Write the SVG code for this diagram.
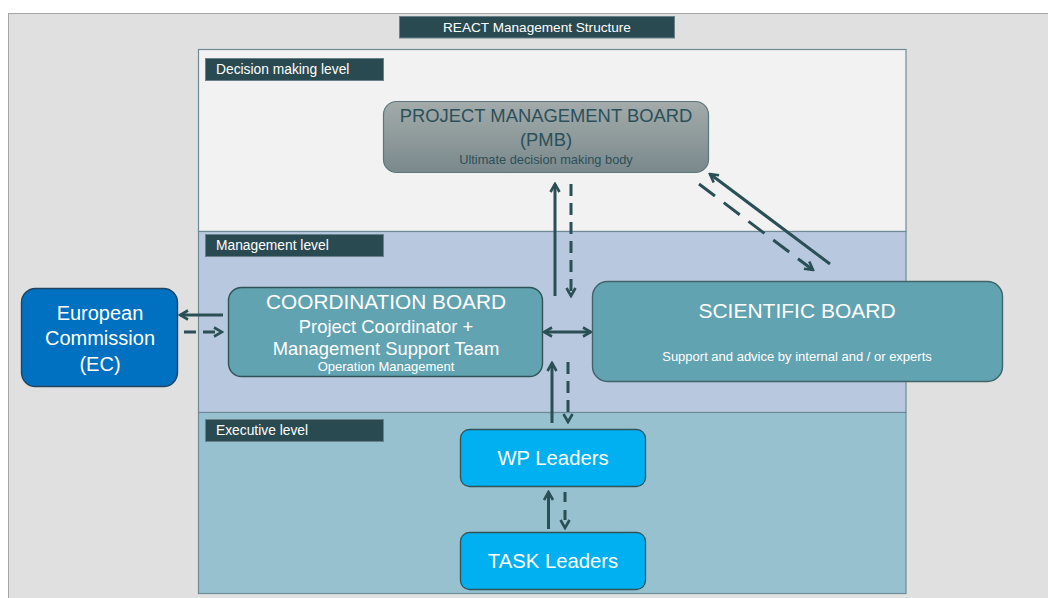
<svg xmlns="http://www.w3.org/2000/svg" width="1048" height="598" viewBox="0 0 1048 598">
  <defs>
    <linearGradient id="pmbFill" x1="0" y1="0" x2="0" y2="1">
      <stop offset="0" stop-color="#a3abab"/>
      <stop offset="1" stop-color="#7a898c"/>
    </linearGradient>
    <marker id="head" viewBox="0 0 12 12" refX="10" refY="6" markerWidth="12" markerHeight="12" markerUnits="userSpaceOnUse" orient="auto-start-reverse">
      <path d="M2,1.5 L10,6 L2,10.5" fill="none" stroke="#2a4f55" stroke-width="2.6" stroke-linejoin="miter"/>
    </marker>
  </defs>
  <style>
    .lbl { fill: #2a4a52; stroke: #6b8189; stroke-width: 1; }
    .lbltxt { font-family: "Liberation Sans", Arial, sans-serif; font-size: 13.8px; fill: #ffffff; }
    .panel { stroke: #6f8a95; stroke-width: 1.2; }
    .t { font-family: "Liberation Sans", Arial, sans-serif; text-anchor: middle; }
    .conn { fill: none; stroke: #2a4f55; stroke-width: 3; }
    .dash { stroke-dasharray: 12 7; }
    .dashlong { stroke-dasharray: 20 11; }
  </style>

  <!-- page background -->
  <rect x="0" y="0" width="1048" height="598" fill="#ffffff"/>
  <rect x="8.5" y="13.5" width="1045" height="590" fill="#e0e0e0" stroke="#a6a6a6" stroke-width="1"/>

  <!-- title -->
  <g id="title">
    <rect x="399.5" y="16.5" width="275" height="21.5" class="lbl"/>
    <text x="537" y="32" class="t" font-size="13.6" fill="#ffffff">REACT Management Structure</text>
  </g>

  <!-- level bands -->
  <g id="level-decision">
    <rect x="198.5" y="49.5" width="707.5" height="182" fill="#f2f2f2" class="panel"/>
    <rect x="205.5" y="58.5" width="178" height="22" class="lbl"/>
    <text x="216" y="74" class="lbltxt">Decision making level</text>
  </g>
  <g id="level-management">
    <rect x="198.5" y="231.5" width="707.5" height="181" fill="#b8c9df" class="panel"/>
    <rect x="205.5" y="234.5" width="178" height="22" class="lbl"/>
    <text x="216" y="250" class="lbltxt">Management level</text>
  </g>
  <g id="level-executive">
    <rect x="198.5" y="412.5" width="707.5" height="181" fill="#97c1cf" class="panel"/>
    <rect x="205.5" y="419.5" width="178" height="22" class="lbl"/>
    <text x="216" y="435" class="lbltxt">Executive level</text>
  </g>

  <!-- connectors -->
  <g id="connectors">
    <!-- PMB <-> Coordination board -->
    <line x1="555" y1="296" x2="555" y2="184" class="conn" marker-end="url(#head)"/>
    <line x1="571" y1="184" x2="571" y2="296" class="conn dash" marker-end="url(#head)"/>
    <!-- PMB <-> Scientific board -->
    <line x1="830" y1="264" x2="710" y2="174" class="conn" marker-end="url(#head)"/>
    <line x1="699" y1="184" x2="813" y2="270" class="conn dashlong" marker-end="url(#head)"/>
    <!-- Coordination board <-> Scientific board -->
    <line x1="544" y1="332" x2="591" y2="332" class="conn" marker-start="url(#head)" marker-end="url(#head)"/>
    <!-- Coordination board <-> EC -->
    <line x1="223" y1="315" x2="180" y2="315" class="conn" marker-end="url(#head)"/>
    <line x1="184" y1="332" x2="222" y2="332" class="conn dash" marker-end="url(#head)"/>
    <!-- Coordination board <-> WP leaders -->
    <line x1="552" y1="423" x2="552" y2="363" class="conn" marker-end="url(#head)"/>
    <line x1="568" y1="362" x2="568" y2="422" class="conn dash" marker-end="url(#head)"/>
    <!-- WP leaders <-> TASK leaders -->
    <line x1="548.5" y1="529" x2="548.5" y2="492" class="conn" marker-end="url(#head)"/>
    <line x1="565" y1="492" x2="565" y2="528" class="conn" stroke-dasharray="10 8" marker-end="url(#head)"/>
  </g>

  <!-- nodes -->
  <g id="pmb">
    <rect x="383.5" y="101.5" width="325" height="71" rx="13" fill="url(#pmbFill)" stroke="#5c777c" stroke-width="1.2"/>
    <text x="546" y="122" class="t" font-size="18.4" fill="#2c5058">PROJECT MANAGEMENT BOARD</text>
    <text x="546" y="146" class="t" font-size="18.4" fill="#2c5058">(PMB)</text>
    <text x="546" y="164" class="t" font-size="12.8" fill="#2c5058">Ultimate decision making body</text>
  </g>

  <g id="ec">
    <rect x="21.5" y="288.5" width="156" height="98" rx="14" fill="#0070c0" stroke="#1f4560" stroke-width="1.4"/>
    <text x="100" y="320" class="t" font-size="20" fill="#ffffff">European</text>
    <text x="100" y="345" class="t" font-size="20" fill="#ffffff">Commission</text>
    <text x="100" y="371" class="t" font-size="20" fill="#ffffff">(EC)</text>
  </g>

  <g id="coordination-board">
    <rect x="228.5" y="287.5" width="314" height="89" rx="13" fill="#62a3b1" stroke="#2f5357" stroke-width="1.4"/>
    <text x="386" y="309" class="t" font-size="20.8" fill="#ffffff">COORDINATION BOARD</text>
    <text x="386" y="333" class="t" font-size="18.4" fill="#ffffff">Project Coordinator +</text>
    <text x="386" y="355" class="t" font-size="18.4" fill="#ffffff">Management Support Team</text>
    <text x="386" y="371" class="t" font-size="13" fill="#ffffff">Operation Management</text>
  </g>

  <g id="scientific-board">
    <rect x="592.5" y="281.5" width="410" height="100" rx="15" fill="#62a3b1" stroke="#40636a" stroke-width="1.4"/>
    <text x="797" y="318" class="t" font-size="21" fill="#ffffff">SCIENTIFIC BOARD</text>
    <text x="797" y="361" class="t" font-size="13" fill="#ffffff">Support and advice by internal and / or experts</text>
  </g>

  <g id="wp-leaders">
    <rect x="460.5" y="429.5" width="185" height="57" rx="9" fill="#00b0f0" stroke="#2f5357" stroke-width="1.3"/>
    <text x="553" y="465" class="t" font-size="20.3" fill="#ffffff">WP Leaders</text>
  </g>

  <g id="task-leaders">
    <rect x="460.5" y="532.5" width="185" height="57" rx="9" fill="#00b0f0" stroke="#2f5357" stroke-width="1.3"/>
    <text x="553" y="568" class="t" font-size="20.3" fill="#ffffff">TASK Leaders</text>
  </g>
</svg>
